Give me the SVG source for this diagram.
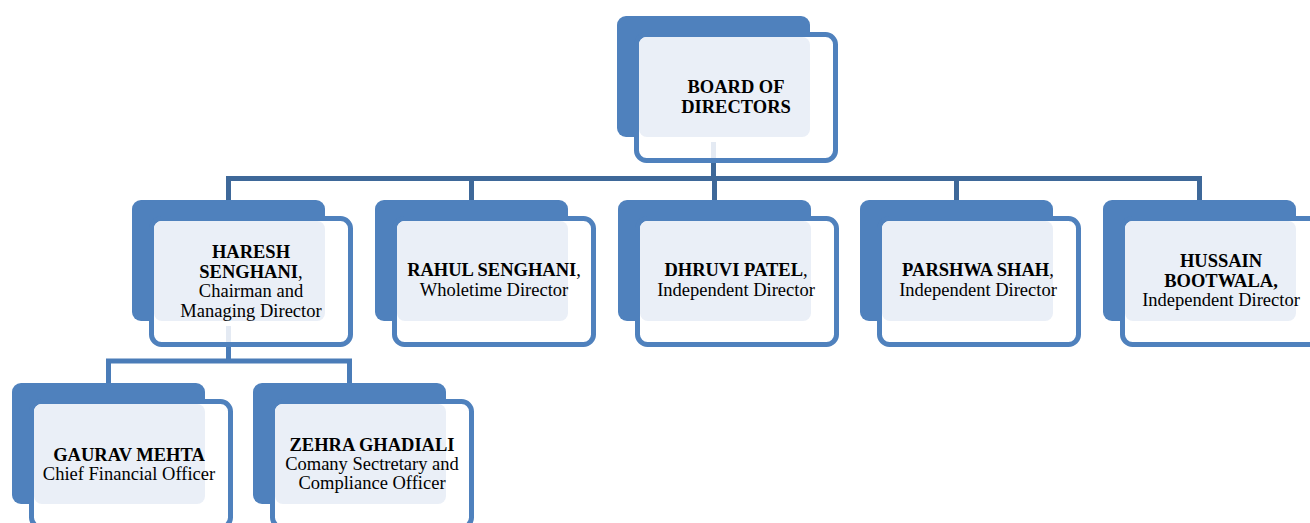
<svg xmlns="http://www.w3.org/2000/svg" width="1310" height="523" viewBox="0 0 1310 523">
<style>
.back{fill:#4F81BD}
.frame{fill:#FFFFFF;stroke:#4F81BD;stroke-width:5}
.lite{fill:#EAEFF7}
.c1{stroke:#3E6899;stroke-width:5;fill:none}
.c2{stroke:#4A7CB8;stroke-width:5;fill:none}
.ghost{stroke:#E4EAF3;stroke-width:5;fill:none}
text{font-family:"Liberation Serif","Times New Roman",serif;font-size:18.5px;fill:#000;text-anchor:middle}
.b{font-weight:bold}
</style>
<rect width="1310" height="523" fill="#FFFFFF"/>
<g id="connectors">
<path class="c1" d="M713.5 160V178.5M228.5 178.5H1199.5M228.5 176V200M471.5 176V200M714.5 176V200M956.5 176V200M1199.5 176V200"/>
<path class="c2" d="M228.5 344V361M108.5 361H349.5M108.5 358.5V383M349.5 358.5V383"/>
</g>
<g id="n-board">
<rect class="back" x="617" y="16" width="193" height="121" rx="9"/>
<rect class="frame" x="636.5" y="34.5" width="199" height="126" rx="10"/>
<rect class="lite" x="639" y="37" width="171" height="100" rx="8"/>
<line class="ghost" x1="713.5" y1="142" x2="713.5" y2="158"/>
<text x="736" y="93" class="b">BOARD OF</text>
<text x="736" y="112.5" class="b">DIRECTORS</text>
</g>
<g id="n-haresh">
<rect class="back" x="132" y="200" width="193" height="121" rx="9"/>
<rect class="frame" x="151.5" y="218.5" width="199" height="126" rx="10"/>
<rect class="lite" x="154" y="221" width="171" height="100" rx="8"/>
<line class="ghost" x1="228.5" y1="326" x2="228.5" y2="342"/>
<text x="251" y="258" class="b">HARESH</text>
<text x="251" y="277.5"><tspan class="b">SENGHANI</tspan>,</text>
<text x="251" y="297">Chairman and</text>
<text x="251" y="316.5">Managing Director</text>
</g>
<g id="n-rahul">
<rect class="back" x="375" y="200" width="193" height="121" rx="9"/>
<rect class="frame" x="394.5" y="218.5" width="199" height="126" rx="10"/>
<rect class="lite" x="397" y="221" width="171" height="100" rx="8"/>
<text x="494" y="276"><tspan class="b">RAHUL SENGHANI</tspan>,</text>
<text x="494" y="295.5">Wholetime Director</text>
</g>
<g id="n-dhruvi">
<rect class="back" x="618" y="200" width="193" height="121" rx="9"/>
<rect class="frame" x="637.5" y="218.5" width="199" height="126" rx="10"/>
<rect class="lite" x="640" y="221" width="171" height="100" rx="8"/>
<text x="736" y="276"><tspan class="b">DHRUVI PATEL</tspan>,</text>
<text x="736" y="295.5">Independent Director</text>
</g>
<g id="n-parshwa">
<rect class="back" x="860" y="200" width="193" height="121" rx="9"/>
<rect class="frame" x="879.5" y="218.5" width="199" height="126" rx="10"/>
<rect class="lite" x="882" y="221" width="171" height="100" rx="8"/>
<text x="978" y="276"><tspan class="b">PARSHWA SHAH</tspan>,</text>
<text x="978" y="295.5">Independent Director</text>
</g>
<g id="n-hussain">
<rect class="back" x="1103" y="200" width="193" height="121" rx="9"/>
<rect class="frame" x="1122.5" y="218.5" width="199" height="126" rx="10"/>
<rect class="lite" x="1125" y="221" width="171" height="100" rx="8"/>
<text x="1221" y="267" class="b">HUSSAIN</text>
<text x="1221" y="286.5" class="b">BOOTWALA,</text>
<text x="1221" y="306">Independent Director</text>
</g>
<g id="n-gaurav">
<rect class="back" x="12" y="383" width="193" height="121" rx="9"/>
<rect class="frame" x="31.5" y="401.5" width="199" height="126" rx="10"/>
<rect class="lite" x="34" y="404" width="171" height="100" rx="8"/>
<text x="129" y="461" class="b">GAURAV MEHTA</text>
<text x="129" y="480">Chief Financial Officer</text>
</g>
<g id="n-zehra">
<rect class="back" x="253" y="383" width="193" height="121" rx="9"/>
<rect class="frame" x="272.5" y="401.5" width="199" height="126" rx="10"/>
<rect class="lite" x="275" y="404" width="171" height="100" rx="8"/>
<text x="372" y="451" class="b">ZEHRA GHADIALI</text>
<text x="372" y="470">Comany Sectretary and</text>
<text x="372" y="489">Compliance Officer</text>
</g>
</svg>
